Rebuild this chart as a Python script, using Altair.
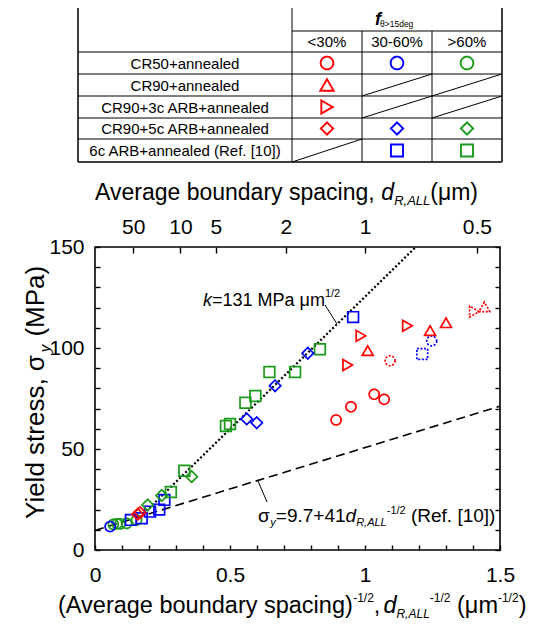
import altair as alt
import pandas as pd

# ---------------- values ----------------
groups = ["CR50+annealed", "CR90+annealed", "CR90+3c ARB+annealed",
          "CR90+5c ARB+annealed", "6c ARB+annealed (Ref. [10])"]
f_classes = ["<30%", "30-60%", ">60%"]
# which (group, f-class) cells of the key table carry a symbol (0 = crossed out)
table_cells = [[1, 1, 1], [1, 0, 0], [1, 0, 0], [1, 1, 1], [0, 1, 1]]

cr50_lt30_x = [0.893, 0.948, 1.034, 1.071]
cr50_lt30_y = [64.4, 70.9, 77.1, 74.6]
cr50_lt30_dot_x = [1.093]
cr50_lt30_dot_y = [93.7]
cr50_mid_x = [0.056]
cr50_mid_y = [11.6]
cr50_mid_dot_x = [1.247]
cr50_mid_dot_y = [103.5]
cr50_gt60_x = [0.068, 0.082, 0.093, 0.117, 0.154]
cr50_gt60_y = [12.7, 13.0, 12.9, 13.2, 14.9]
cr90_lt30_x = [1.010, 1.241, 1.300]
cr90_lt30_y = [98.7, 108.6, 112.5]
cr90_lt30_dot_x = [1.442]
cr90_lt30_dot_y = [120.4]
arb3_lt30_x = [0.936, 0.985, 1.157]
arb3_lt30_y = [91.6, 106.0, 111.0]
arb3_lt30_dot_x = [1.405]
arb3_lt30_dot_y = [118.0]
arb5_lt30_x = [0.158, 0.167]
arb5_lt30_y = [17.7, 18.5]
arb5_mid_x = [0.562, 0.599, 0.667, 0.788]
arb5_mid_y = [64.9, 63.0, 81.3, 97.4]
arb5_gt60_x = [0.195, 0.247, 0.358]
arb5_gt60_y = [22.3, 27.0, 36.3]
arb6_mid_x = [0.133, 0.173, 0.204, 0.238, 0.257, 0.956]
arb6_mid_y = [14.9, 15.7, 19.0, 20.0, 24.8, 115.3]
arb6_mid_dot_x = [1.212]
arb6_mid_dot_y = [97.0]
arb6_gt60_x = [0.281, 0.331, 0.485, 0.500, 0.557, 0.594, 0.646, 0.741, 0.833]
arb6_gt60_y = [28.7, 39.2, 61.4, 62.4, 72.9, 76.2, 88.1, 88.1, 99.4]

# Hall-Petch lines (end points)
fit_x = [0.19, 1.185]          # k = 131 MPa um^1/2 (dotted)
fit_y = [19.3, 149.6]
ref_x = [0.0, 1.5]             # 9.7 + 41 d^-1/2 (dashed)
ref_y = [9.7, 71.2]

x_ticks = [0.0, 0.1, 0.2, 0.3, 0.4, 0.5, 0.6, 0.7, 0.8, 0.9, 1.0, 1.1, 1.2, 1.3, 1.4, 1.5]
y_ticks = [0, 10, 20, 30, 40, 50, 60, 70, 80, 90, 100, 110, 120, 130, 140, 150]
spacing_ticks = [50, 10, 5, 2, 1, 0.5]   # top axis, d (um)

# ---------------- styles / layout ----------------
FONT = "Liberation Sans"
RED, BLUE, GREEN = "#ff0000", "#0000ff", "#1a9a1a"
shape_range = ["circle", "triangle-up", "triangle-right", "diamond", "square"]
size_plot = {"circle": 100, "triangle-up": 120, "triangle-right": 120, "diamond": 130, "square": 115}
size_table = {"circle": 160, "triangle-up": 180, "triangle-right": 170, "diamond": 150, "square": 145}
W_PLOT, H_PLOT = 405, 303
PAD = {"left": 87, "top": 239, "right": 36, "bottom": 70}
OX, OY = 8 + PAD["left"], 8 + PAD["top"]

series = [
    (groups[0], ">60%", "solid", cr50_gt60_x, cr50_gt60_y),
    (groups[4], "30-60%", "solid", arb6_mid_x, arb6_mid_y),
    (groups[4], ">60%", "solid", arb6_gt60_x, arb6_gt60_y),
    (groups[3], ">60%", "solid", arb5_gt60_x, arb5_gt60_y),
    (groups[3], "30-60%", "solid", arb5_mid_x, arb5_mid_y),
    (groups[3], "<30%", "solid", arb5_lt30_x, arb5_lt30_y),
    (groups[0], "30-60%", "solid", cr50_mid_x, cr50_mid_y),
    (groups[0], "<30%", "solid", cr50_lt30_x, cr50_lt30_y),
    (groups[0], "<30%", "dotted", cr50_lt30_dot_x, cr50_lt30_dot_y),
    (groups[0], "30-60%", "dotted", cr50_mid_dot_x, cr50_mid_dot_y),
    (groups[1], "<30%", "solid", cr90_lt30_x, cr90_lt30_y),
    (groups[1], "<30%", "dotted", cr90_lt30_dot_x, cr90_lt30_dot_y),
    (groups[2], "<30%", "solid", arb3_lt30_x, arb3_lt30_y),
    (groups[2], "<30%", "dotted", arb3_lt30_dot_x, arb3_lt30_dot_y),
    (groups[4], "30-60%", "dotted", arb6_mid_dot_x, arb6_mid_dot_y),
]
rows = []
for g, f, ls, xs, ys in series:
    for xv, yv in zip(xs, ys):
        rows.append({"group": g, "f": f, "ls": ls, "x": xv, "y": yv,
                     "sz": size_plot[shape_range[groups.index(g)]]})
pts = pd.DataFrame(rows)

# --------------- text helpers (rich text built from pieces) ---------------
CW = {' ': 278, '!': 278, '(': 333, ')': 333, '+': 584, ',': 278, '-': 333, '.': 278, '/': 278,
      '<': 584, '=': 584, '>': 584, '[': 278, ']': 278, '%': 889, 'μ': 576, 'σ': 650, 'θ': 556,
      'A': 667, 'B': 667, 'C': 722, 'D': 722, 'E': 667, 'F': 611, 'L': 556, 'M': 833, 'P': 667,
      'R': 722, 'Y': 667, 'a': 556, 'b': 556, 'c': 500, 'd': 556, 'e': 556, 'f': 278, 'g': 556,
      'i': 222, 'k': 500, 'l': 222, 'm': 833, 'n': 556, 'o': 556, 'p': 556, 'r': 333, 's': 500,
      't': 278, 'u': 556, 'v': 500, 'y': 500}


def tw(s, fs):
    return sum(CW.get(c, 556) for c in s) * fs / 1000.0


texts = []


def hrun(pieces, x, y):
    for t, fs, st, sh, *gap in pieces:
        body = t.lstrip(" ")
        x += tw(t[:len(t) - len(body)], fs)
        texts.append({"px": x - OX, "py": y - sh - OY, "t": body.rstrip(" "), "fs": fs, "st": st,
                      "rot": 0, "al": "left"})
        x += tw(body, fs) + (gap[0] if gap else 0)


def vrun(pieces, x, y):
    for t, fs, st, sh, *gap in pieces:
        body = t.lstrip(" ")
        y -= tw(t[:len(t) - len(body)], fs)
        texts.append({"px": x - sh - OX, "py": y - OY, "t": body.rstrip(" "), "fs": fs, "st": st,
                      "rot": 270, "al": "left"})
        y -= tw(body, fs) + (gap[0] if gap else 0)


def ctext(t, x, y, fs):
    texts.append({"px": x - OX, "py": y - OY, "t": t, "fs": fs, "st": "n", "rot": 0, "al": "center"})


# axis titles
hrun([("Average boundary spacing, ", 23, "n", 0), ("d", 23, "i", 0), ("R,ALL", 13, "i", -5),
      ("(μm)", 23, "n", 0)], 95, 200)
hrun([("(Average boundary spacing)", 23.5, "n", 0), ("-1/2", 12, "n", 11), (",", 23.5, "n", 0, 3),
      ("d", 23.5, "i", 0), ("R,ALL", 12, "i", -5), ("-1/2", 12, "n", 11), (" (μm", 23.5, "n", 0),
      ("-1/2", 12, "n", 11), (")", 23.5, "n", 0)], 58, 613)
vrun([("Yield stress, σ", 26, "n", 0, 1), ("y", 15, "i", -6, 1), (" (MPa)", 26, "n", 0)], 44, 519)
# annotations
hrun([("k", 18, "i", 0), ("=131 MPa μm", 18, "n", 0), ("1/2", 11, "n", 9)], 203, 306)
hrun([("σ", 19, "n", 0), ("y", 11, "i", -4), ("=9.7+41", 19, "n", 0), ("d", 19, "i", 0),
      ("R,ALL", 11, "i", -4), ("-1/2", 11, "n", 8), (" (Ref. [10])", 19, "n", 0)], 258, 522)

# key table
COL = [78, 292, 362, 432, 502]
ROW = [7, 31, 52, 74, 96, 118, 139, 162]
hrun([("f", 18, "bi", 0), ("θ>15deg", 8.5, "n", -2)], 375, 25)
for j, fc in enumerate(f_classes):
    ctext(fc, (COL[j + 1] + COL[j + 2]) / 2, (ROW[1] + ROW[2]) / 2 + 5.5, 15)
for i, g in enumerate(groups):
    ctext(g, (COL[0] + COL[1]) / 2, (ROW[i + 2] + ROW[i + 3]) / 2 + 5.5, 15)
tdf = pd.DataFrame(texts)

segs = [(78, 7, 502, 7, 1.5), (78, 162, 502, 162, 1.5), (78, 7, 78, 162, 1.5), (502, 7, 502, 162, 1.5),
        (292, 31, 502, 31, 1), (292, 7, 292, 162, 1), (362, 31, 362, 162, 1), (432, 31, 432, 162, 1)]
for yv in ROW[2:7]:
    segs.append((78, yv, 502, yv, 1))
tpts = []
for i, g in enumerate(groups):
    for j, fc in enumerate(f_classes):
        x0, x1 = COL[j + 1], COL[j + 2]
        y0, y1 = ROW[i + 2], ROW[i + 3]
        if table_cells[i][j]:
            shp = shape_range[i]
            tpts.append({"group": g, "f": fc, "ls": "solid", "px": (x0 + x1) / 2 - OX,
                         "py": (y0 + y1) / 2 - OY, "sz": size_table[shp]})
        else:
            segs.append((x0, y1, x1, y0, 1))
# leader lines of the annotations
segs.append((325, 305, 337, 324, 1))
segs.append((258, 481, 267, 502, 1))
sdf = pd.DataFrame([{"px": a - OX, "py": b - OY, "px2": c - OX, "py2": d - OY, "w": w}
                    for a, b, c, d, w in segs])
tpdf = pd.DataFrame(tpts)

# ---------------- chart ----------------
xs = alt.Scale(domain=[0, 1.5], nice=False, zero=False)
ys = alt.Scale(domain=[0, 150], nice=False, zero=False)
shape_enc = alt.Shape("group:N", scale=alt.Scale(domain=groups, range=shape_range), legend=None)
color_enc = alt.Color("f:N", scale=alt.Scale(domain=f_classes, range=[RED, BLUE, GREEN]), legend=None)
dash_enc = alt.StrokeDash("ls:N", scale=alt.Scale(domain=["solid", "dotted"], range=[[1, 0], [2, 1.6]]),
                          legend=None)

axc = dict(domain=False, grid=False, title=None, tickColor="black", tickWidth=1.4, labelColor="black",
           labelFont=FONT, labelFlush=False, labelOverlap=False)
ax_bottom = alt.Axis(orient="bottom", values=x_ticks, format=".1~f",
                     labelExpr="abs(datum.value*2 - round(datum.value*2)) < 0.001 ? datum.label : ''",
                     tickSize=5, offset=-5, labelPadding=14, labelFontSize=21, **axc)
ax_left = alt.Axis(orient="left", values=y_ticks,
                   labelExpr="datum.value % 50 == 0 ? datum.label : ''",
                   tickSize=5, offset=-5, labelPadding=11, labelFontSize=21, **axc)
ax_top = alt.Axis(orient="top", values=[d ** -0.5 for d in spacing_ticks],
                  labelExpr="format(1/(datum.value*datum.value), '.3~g')",
                  tickSize=6, offset=-6, labelPadding=10, labelFontSize=21, **axc)
ax_right = alt.Axis(orient="right", values=y_ticks, labels=False, tickSize=5, offset=-5, **axc)

ref_line = alt.Chart(pd.DataFrame({"x": ref_x, "y": ref_y})).mark_line(
    color="black", strokeWidth=1.6, strokeDash=[9, 5]).encode(
    x=alt.X("x:Q", scale=xs, axis=ax_bottom), y=alt.Y("y:Q", scale=ys, axis=ax_left))
fit_line = alt.Chart(pd.DataFrame({"x": fit_x, "y": fit_y})).mark_line(
    color="black", strokeWidth=2.2, strokeDash=[2, 2.2]).encode(
    x=alt.X("x:Q", scale=xs, axis=ax_top), y=alt.Y("y:Q", scale=ys, axis=ax_right))
points = alt.Chart(pts).mark_point(filled=False, strokeWidth=1.7, opacity=1).encode(
    x=alt.X("x:Q", scale=xs, axis=None), y=alt.Y("y:Q", scale=ys, axis=None),
    shape=shape_enc, color=color_enc, strokeDash=dash_enc, size=alt.Size("sz:Q", scale=None))

table_rules = alt.Chart(sdf).mark_rule(color="black").encode(
    x=alt.X("px:Q", scale=None), y=alt.Y("py:Q", scale=None), x2="px2:Q", y2="py2:Q",
    strokeWidth=alt.StrokeWidth("w:Q", scale=None))
table_pts = alt.Chart(tpdf).mark_point(filled=False, strokeWidth=1.9, opacity=1).encode(
    x=alt.X("px:Q", scale=None), y=alt.Y("py:Q", scale=None),
    shape=shape_enc, color=color_enc, strokeDash=dash_enc, size=alt.Size("sz:Q", scale=None))


def text_layer(df, align, style, weight, angle, baseline):
    return alt.Chart(df).mark_text(align=align, baseline=baseline, font=FONT, fontStyle=style,
                                   fontWeight=weight, angle=angle, color="black").encode(
        x=alt.X("px:Q", scale=None), y=alt.Y("py:Q", scale=None), text="t:N",
        size=alt.Size("fs:Q", scale=None))


tlayers = []
for (st, rot, al), sub in tdf.groupby(["st", "rot", "al"]):
    tlayers.append(text_layer(sub.reset_index(drop=True), al,
                              "italic" if "i" in st else "normal",
                              "bold" if "b" in st else "normal", int(rot), "alphabetic"))

chart = alt.layer(ref_line, fit_line, points, table_rules, table_pts, *tlayers).resolve_axis(
    x="independent", y="independent").properties(
    width=W_PLOT, height=H_PLOT, padding=PAD, autosize=alt.AutoSizeParams(type="none")
).configure_view(stroke="black", strokeWidth=1.6)

chart.save("out.html", embed_options={"renderer": "svg", "actions": False})
